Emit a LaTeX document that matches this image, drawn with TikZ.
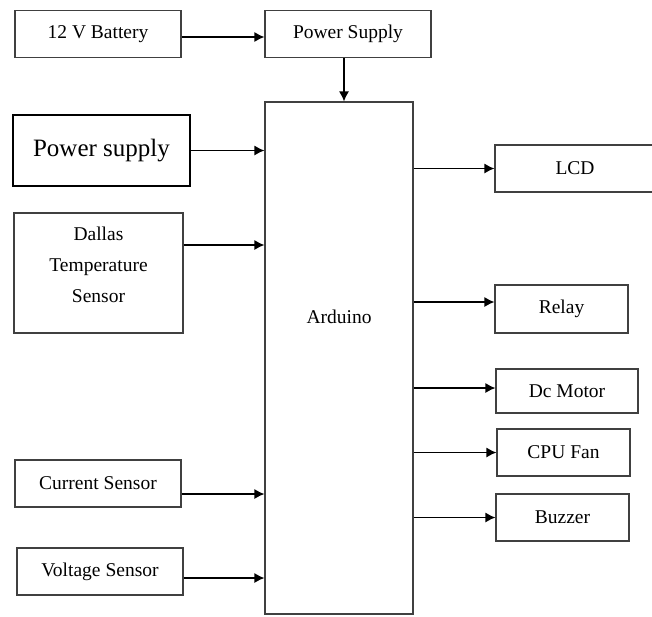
\documentclass[tikz,border=0pt]{standalone}
\usepackage{fontspec}
\setmainfont{Liberation Serif}
\usetikzlibrary{arrows.meta}
\tikzstyle{block} = [
    rectangle,
    minimum width=83pt,
    minimum height=23.5pt,
    line width=0.6pt,
    draw=black!75,
    font=\fontsize{9.75}{15.5}\selectfont
]
\tikzstyle{bigblock} = [
    block,
    line width=1.2pt,
    draw=black,
    font=\fontsize{12.5}{15}\selectfont
]
\tikzstyle{arrow} = [->,>={Latex[length=5pt,width=5pt]},line width=0.6pt]

\begin{document}
\begin{tikzpicture}[x=0.5pt,y=-0.5pt]
\useasboundingbox (0,0) rectangle (652,616);
\node (battery) [block] at (98,34) {12 V Battery};
\node (supply) [block] at (348,34) {Power Supply};
\node (arduino) [block, minimum width=74pt, minimum height=256pt,
    label={[yshift=20.5pt,font=\fontsize{9.75}{12}\selectfont]center:Arduino}]
    at (339,358) {};
\node (power) [bigblock, minimum width=88.5pt, minimum height=35.5pt]
    at (101.5,150.5) {Power supply};
\node (dallas) [block, align=center, text depth=8pt,
    minimum width=84.5pt, minimum height=60pt]
    at (98.5,273) {Dallas\\Temperature\\Sensor};
\node (current) [block] at (98,483.5) {Current Sensor};
\node (voltage) [block] at (100,571.5) {Voltage Sensor};
\node (lcd) [block, minimum width=80pt] at (575,168.5) {LCD};
\node (relay) [block, minimum width=66.5pt, minimum height=24pt]
    at (561.5,309) {Relay};
\node (motor) [block, minimum width=71pt, minimum height=22pt]
    at (567,391) {Dc Motor};
\node (fan) [block, minimum width=66.5pt] at (563.5,452.5) {CPU Fan};
\node (buzzer) [block, minimum width=66.5pt] at (562.5,517.5) {Buzzer};

\draw [arrow] ([yshift=-1.5pt]battery.east) -- ([yshift=-1.5pt]supply.west);
\draw [arrow] ([xshift=-2pt]supply.south) -- ([xshift=-2pt]supply.south |- arduino.north);
\draw [arrow] (power.east) -- (power.east -| arduino.west);
\draw [arrow] ([yshift=14pt]dallas.east) -- ([yshift=14pt]dallas.east -| arduino.west);
\draw [arrow] ([yshift=-5.25pt]current.east) -- ([yshift=-5.25pt]current.east -| arduino.west);
\draw [arrow] ([yshift=-3.25pt]voltage.east) -- ([yshift=-3.25pt]voltage.east -| arduino.west);
\draw [arrow] (lcd.west -| arduino.east) -- (lcd.west);
\draw [arrow] ([yshift=3.5pt]relay.west -| arduino.east) -- ([yshift=3.5pt]relay.west);
\draw [arrow] ([yshift=1.5pt]motor.west -| arduino.east) -- ([yshift=1.5pt]motor.west);
\draw [arrow] (fan.west -| arduino.east) -- (fan.west);
\draw [arrow] (buzzer.west -| arduino.east) -- (buzzer.west);

\end{tikzpicture}
\end{document}
